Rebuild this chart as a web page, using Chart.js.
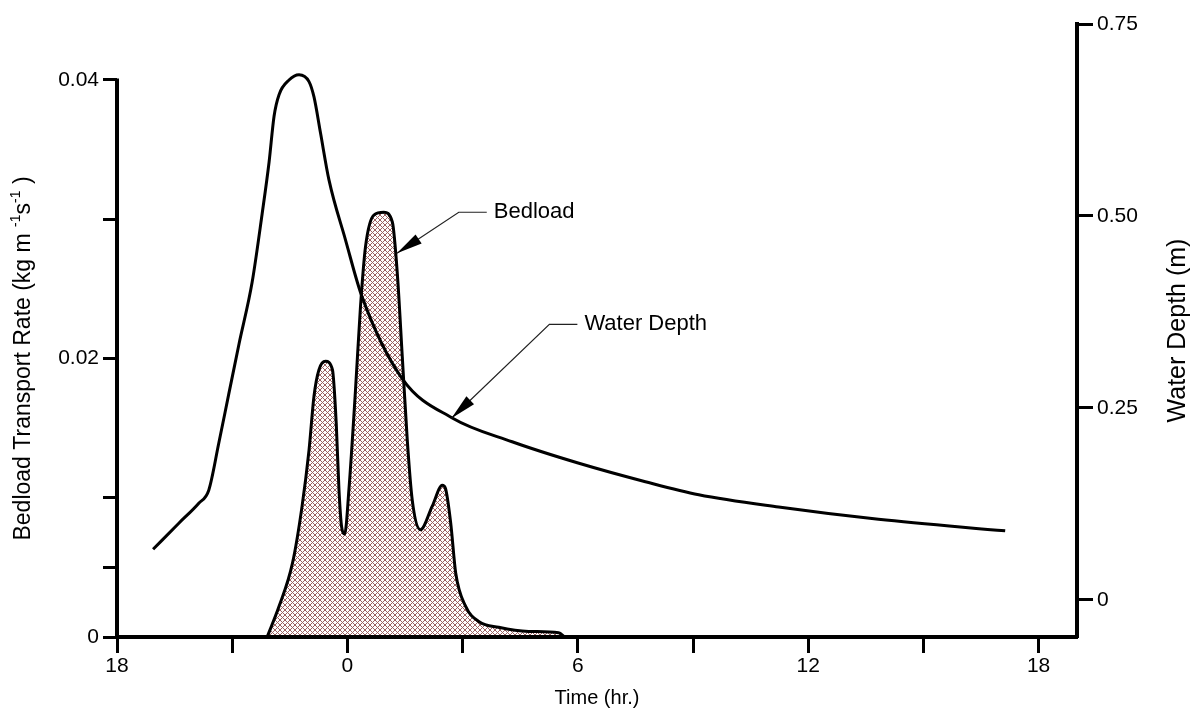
<!DOCTYPE html>
<html>
<head>
<meta charset="utf-8">
<script src="https://cdn.jsdelivr.net/npm/chart.js@4.4.1/dist/chart.umd.min.js"></script>
<style>
  html, body { margin: 0; padding: 0; background: #fff; }
</style>
</head>
<body>
<canvas id="chart" width="1190" height="713"></canvas>
<script>
// Datos: tiempo (h), transporte de fondo (kg m-1 s-1), profundidad (m)
const bedloadTime = [-2.09, -1.78, -1.43, -1.18, -1.00, -0.87, -0.74, -0.57, -0.39, -0.29, -0.22, -0.15, -0.07,
  0.04, 0.21, 0.34, 0.47, 0.69, 0.95, 1.17, 1.30, 1.43, 1.56, 1.69, 1.90, 2.21, 2.47, 2.55, 2.69, 2.82, 3.08,
  3.43, 3.94, 4.72, 5.50, 5.66];
const bedloadRate = [0.0000, 0.0022, 0.0053, 0.0094, 0.0134, 0.0173, 0.0192, 0.0198, 0.0192, 0.0153, 0.0106, 0.0079, 0.0074,
  0.0106, 0.0177, 0.0237, 0.0280, 0.0303, 0.0305, 0.0298, 0.0261, 0.0201, 0.0141, 0.0098, 0.0077, 0.0094, 0.0109, 0.0107, 0.0082, 0.0046, 0.0022,
  0.0011, 0.0007, 0.0004, 0.0003, 0.0000];

const depthTime = [-5.06, -4.39, -3.87, -3.61, -3.35, -3.09, -2.82, -2.48, -2.22, -2.04, -1.91, -1.78, -1.52, -1.26,
  -1.00, -0.87, -0.70, -0.48, -0.05, 0.38, 1.43, 2.73, 4.29, 6.03, 7.76, 9.15, 11.23, 13.83, 17.13];
const depthValue = [0.066, 0.100, 0.126, 0.143, 0.204, 0.268, 0.334, 0.414, 0.503, 0.570, 0.630, 0.658, 0.677, 0.684,
  0.675, 0.655, 0.608, 0.547, 0.469, 0.395, 0.288, 0.237, 0.206, 0.178, 0.154, 0.137, 0.121, 0.105, 0.090];

// Ejes
const timeTicks  = [-6, -3, 0, 3, 6, 9, 12, 15, 18];
const timeLabels = ["18", "", "0", "", "6", "", "12", "", "18"];
const rateTicks  = [0, 0.005, 0.01, 0.02, 0.03, 0.04];
const rateLabels = ["0", "", "", "0.02", "", "0.04"];
const depthTicks  = [0, 0.25, 0.5, 0.75];
const depthLabels = ["0", "0.25", "0.50", "0.75"];
const timeRange  = [-6, 19];
const rateRange  = [0, 0.04402];
const depthRange = [-0.0482, 0.75];

// Anotaciones (coordenadas en unidades de datos)
const notes = [
  { text: "Bedload",     axis: "y",  tip: [1.29, 0.02755], elbow: [2.90, 0.0305] },
  { text: "Water Depth", axis: "y1", tip: [2.71, 0.2366],  elbow: [5.26, 0.359] }
];

const FONT = '"Liberation Sans", Arial, sans-serif';

function hatch() {
  const t = document.createElement("canvas");
  t.width = 5; t.height = 5;
  const c = t.getContext("2d");
  c.fillStyle = "#fff"; c.fillRect(0, 0, 5, 5);
  c.fillStyle = "#9c6262";
  for (let i = 0; i < 5; i++) { c.fillRect(i, i, 1, 1); c.fillRect(4 - i, i, 1, 1); }
  return c.createPattern(t, "repeat");
}

// Texto con superíndices, rotado
function richText(ctx, parts, cx, cy, size) {
  const fontOf = p => `${p.sup ? Math.round(size * 0.62) : size}px ${FONT}`;
  let total = 0;
  parts.forEach(p => { ctx.font = fontOf(p); p.w = ctx.measureText(p.t).width; total += p.w; });
  ctx.save();
  ctx.translate(cx, cy);
  ctx.rotate(-Math.PI / 2);
  ctx.textBaseline = "middle";
  ctx.textAlign = "left";
  let x = -total / 2;
  parts.forEach(p => {
    ctx.font = fontOf(p);
    ctx.fillText(p.t, x, p.sup ? -size * 0.33 : 0);
    x += p.w;
  });
  ctx.restore();
}

const extras = {
  id: "extras",
  afterDraw(chart) {
    const { ctx, chartArea: a, scales } = chart;
    const xs = scales.x, yL = scales.y;
    ctx.save();
    ctx.fillStyle = "#000";
    ctx.strokeStyle = "#000";

    // eje izquierdo solo hasta 0.04
    ctx.lineWidth = 4;
    ctx.beginPath();
    ctx.moveTo(a.left, yL.getPixelForValue(rateTicks[rateTicks.length - 1]) - 1.5);
    ctx.lineTo(a.left, a.bottom);
    ctx.stroke();

    // flechas y etiquetas
    notes.forEach(n => {
      const ys = scales[n.axis];
      const tx = xs.getPixelForValue(n.tip[0]), ty = ys.getPixelForValue(n.tip[1]);
      const ex = xs.getPixelForValue(n.elbow[0]), ey = ys.getPixelForValue(n.elbow[1]);
      ctx.lineWidth = 1.2;
      ctx.strokeStyle = "#222";
      ctx.beginPath();
      ctx.moveTo(tx, ty); ctx.lineTo(ex, ey); ctx.lineTo(ex + 28, ey);
      ctx.stroke();
      const ang = Math.atan2(ey - ty, ex - tx), L = 26, W = 5.5;
      const bx = tx + L * Math.cos(ang), by = ty + L * Math.sin(ang);
      ctx.beginPath();
      ctx.moveTo(tx, ty);
      ctx.lineTo(bx - W * Math.sin(ang), by + W * Math.cos(ang));
      ctx.lineTo(bx + W * Math.sin(ang), by - W * Math.cos(ang));
      ctx.closePath();
      ctx.fill();
      ctx.font = `22px ${FONT}`;
      ctx.textBaseline = "middle";
      ctx.textAlign = "left";
      ctx.fillText(n.text, ex + 35, ey);
    });

    // títulos de los ejes verticales
    const yMidL = (yL.getPixelForValue(rateTicks[rateTicks.length - 1]) + a.bottom) / 2;
    richText(ctx, [
      { t: "Bedload Transport Rate (kg m " }, { t: "-1", sup: true },
      { t: "s" }, { t: "-1", sup: true }, { t: " )" }
    ], 24, yMidL, 23);
    richText(ctx, [{ t: "Water Depth (m)" }], 1178, (a.top + a.bottom) / 2, 25);
    ctx.restore();
  }
};

const pairs = (xs, ys) => xs.map((x, i) => ({ x, y: ys[i] }));
const setTicks = list => scale => { scale.ticks = list.map(v => ({ value: v })); };
const tickFont = { family: FONT, size: 21 };

new Chart(document.getElementById("chart"), {
  type: "line",
  data: {
    datasets: [
      {
        label: "Water Depth",
        data: pairs(depthTime, depthValue),
        yAxisID: "y1",
        borderColor: "#000",
        borderWidth: 3,
        pointRadius: 0,
        fill: false,
        cubicInterpolationMode: "monotone"
      },
      {
        label: "Bedload",
        data: pairs(bedloadTime, bedloadRate),
        yAxisID: "y",
        borderColor: "#000",
        borderWidth: 3,
        pointRadius: 0,
        fill: "origin",
        backgroundColor: hatch(),
        cubicInterpolationMode: "monotone"
      }
    ]
  },
  options: {
    responsive: false,
    animation: false,
    devicePixelRatio: 1,
    layout: { padding: { top: 24, left: 0, right: 0, bottom: 0 } },
    plugins: { legend: { display: false }, tooltip: { enabled: false } },
    scales: {
      x: {
        type: "linear",
        min: timeRange[0], max: timeRange[1],
        afterBuildTicks: setTicks(timeTicks),
        afterFit: s => { s.height = 76; },
        ticks: { autoSkip: false, maxRotation: 0, color: "#000", font: tickFont, padding: 1,
                 callback: (v, i) => timeLabels[i] },
        grid: { drawOnChartArea: false, tickLength: 16, tickWidth: 3, tickColor: "#000" },
        border: { display: true, color: "#000", width: 4, z: 1 },
        title: { display: true, text: "Time (hr.)", color: "#000", font: { family: FONT, size: 20 },
                 padding: { top: 0, bottom: 3 } }
      },
      y: {
        type: "linear",
        position: "left",
        min: rateRange[0], max: rateRange[1],
        afterBuildTicks: setTicks(rateTicks),
        afterFit: s => { s.width = 117; },
        ticks: { autoSkip: false, color: "#000", font: tickFont, padding: 4,
                 callback: (v, i) => rateLabels[i] },
        grid: { drawOnChartArea: false, tickLength: 14, tickWidth: 3, tickColor: "#000" },
        border: { display: false }
      },
      y1: {
        type: "linear",
        position: "right",
        min: depthRange[0], max: depthRange[1],
        afterBuildTicks: setTicks(depthTicks),
        afterFit: s => { s.width = 113; },
        ticks: { autoSkip: false, color: "#000", font: tickFont, padding: 4,
                 callback: (v, i) => depthLabels[i] },
        grid: { drawOnChartArea: false, tickLength: 16, tickWidth: 3, tickColor: "#000" },
        border: { display: true, color: "#000", width: 4, z: 1 }
      }
    }
  },
  plugins: [extras]
});
</script>
</body>
</html>
